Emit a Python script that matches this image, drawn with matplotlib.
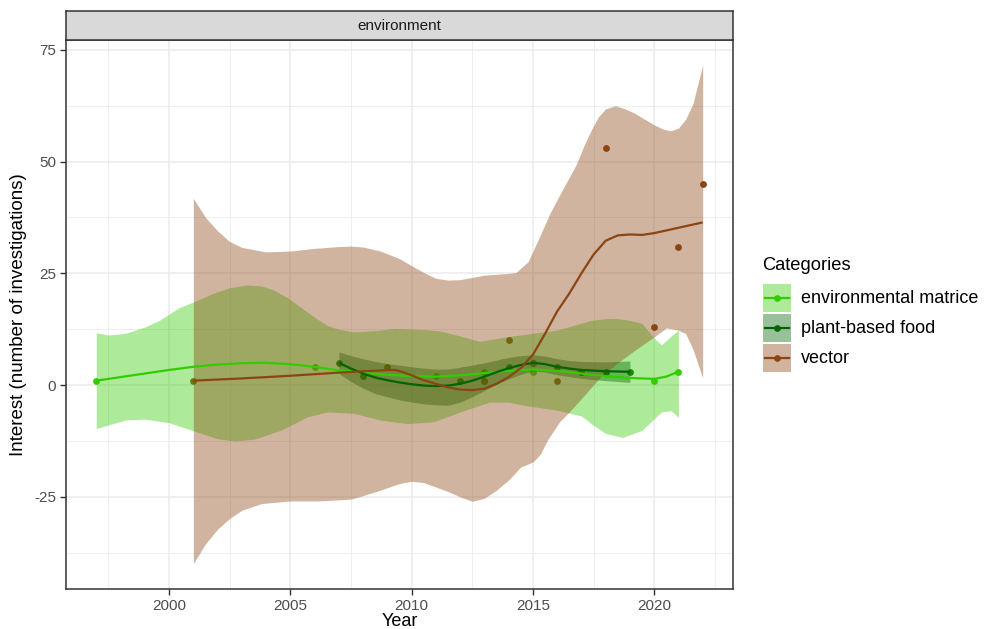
import numpy as np
import matplotlib
matplotlib.use("Agg")
import matplotlib.pyplot as plt
from matplotlib.patches import Rectangle

plt.rcParams['font.family'] = ['Liberation Sans', 'DejaVu Sans']
plt.rcParams['axes.unicode_minus'] = False

categories = ["environmental matrice", "plant-based food", "vector"]
colors = {"environmental matrice": "#33CC00", "plant-based food": "#006400", "vector": "#8B4513"}

# observed counts per year
env_years = [1997, 2006, 2011, 2013, 2015, 2017, 2020, 2021]
env_counts = [1, 4, 2, 3, 3, 3, 1, 3]
plant_years = [2007, 2008, 2012, 2013, 2014, 2015, 2016, 2017, 2018, 2019]
plant_counts = [5, 2, 1, 1, 4, 5, 4, 3, 3, 3]
vec_years = [2001, 2009, 2013, 2014, 2015, 2016, 2018, 2020, 2021, 2022]
vec_counts = [1, 4, 1, 10, 5, 1, 53, 13, 31, 45]

# loess fit and confidence band
env_fit_x = [1997, 1998, 1999, 2000, 2001, 2002, 2003, 2004, 2005, 2006, 2007, 2008, 2009,
             2010, 2011, 2012, 2013, 2014, 2015, 2016, 2017, 2018, 2019, 2020, 2020.5, 2021]
env_fit = [1.0, 1.8, 2.6, 3.4, 4.1, 4.6, 4.9, 5.0, 4.7, 4.1, 3.3, 2.8, 2.3,
           2.0, 1.9, 2.2, 2.7, 3.2, 3.5, 3.2, 2.6, 2.0, 1.6, 1.4, 1.9, 3.0]
env_hi_x = [1997, 1997.5, 1998.2, 1999, 1999.6, 2000.4, 2001, 2001.8, 2002.5, 2003.2, 2003.8, 2004.3,
            2004.9, 2005.4, 2006, 2006.5, 2007, 2007.6, 2008.5, 2009.3, 2010.6, 2011.2, 2012,
            2012.8, 2013.9, 2015, 2016, 2016.7, 2017.4, 2018, 2018.5, 2019, 2019.5, 2020,
            2020.3, 2020.6, 2021]
env_hi = [11.7, 11.2, 11.6, 13.0, 14.5, 17.3, 18.6, 20.5, 21.8, 22.4, 22.2, 21.3,
          19.5, 17.5, 15.2, 13.4, 12.5, 11.9, 12.2, 12.7, 12.4, 12.1, 11.0,
          9.8, 10.8, 11.6, 12.3, 13.4, 14.5, 14.9, 14.9, 14.5, 13.8, 10.5,
          9.0, 10.5, 12.3]
env_lo_x = [1997, 1997.5, 1998.2, 1999, 2000, 2001, 2002, 2002.7, 2003.5, 2004.6, 2005.2, 2005.7,
            2006.5, 2007.6, 2008.7, 2009.8, 2010.9, 2012, 2013.2, 2014, 2014.6, 2016, 2017,
            2017.5, 2018, 2018.7, 2019.5, 2020, 2020.3, 2020.7, 2021]
env_lo = [-9.7, -8.9, -7.8, -7.6, -8.4, -10.2, -12.0, -12.5, -12.1, -10.1, -8.5, -7.1,
          -6.0, -6.3, -7.8, -8.6, -8.2, -6.0, -3.8, -3.8, -4.5, -5.6, -6.9,
          -9.0, -10.8, -11.7, -10.1, -7.5, -6.0, -5.7, -7.2]

plant_fit_x = [2007, 2007.5, 2008, 2008.5, 2009, 2009.5, 2010, 2010.5, 2011, 2011.5, 2012,
               2012.5, 2013, 2013.5, 2014, 2014.5, 2015, 2015.5, 2016, 2016.5, 2017, 2018, 2019]
plant_fit = [5.0, 3.7, 2.6, 1.7, 1.1, 0.6, 0.2, -0.1, -0.2, -0.1, 0.3,
             1.0, 1.9, 2.9, 3.8, 4.5, 5.0, 4.7, 4.1, 3.7, 3.4, 3.1, 3.0]
plant_hi = [7.4, 6.6, 5.9, 5.3, 4.8, 4.5, 4.1, 3.8, 3.6, 3.6, 4.0,
            4.5, 5.0, 5.6, 6.2, 6.6, 6.8, 6.5, 5.9, 5.5, 5.3, 5.2, 5.4]
plant_lo = [2.6, 0.8, -0.7, -1.9, -2.6, -3.3, -3.8, -4.2, -4.4, -4.5, -3.8,
            -2.6, -1.2, 0.2, 1.4, 2.4, 3.2, 2.9, 2.3, 1.9, 1.5, 1.0, 0.6]

vec_fit_x = [2001, 2003, 2005, 2007, 2008, 2009, 2009.3, 2009.6, 2010, 2010.5, 2011, 2011.5,
             2012, 2012.5, 2013, 2013.5, 2014, 2014.5, 2015, 2015.5, 2016, 2016.5, 2017,
             2017.5, 2018, 2018.5, 2019, 2019.5, 2020, 2020.5, 2021, 2021.5, 2022]
vec_fit = [1.0, 1.5, 2.1, 2.8, 3.1, 3.35, 3.4, 3.0, 2.2, 1.1, 0.3, -0.5,
           -1.0, -1.1, -0.8, 0.3, 1.8, 3.8, 6.8, 11.5, 16.5, 20.5, 25.0,
           29.2, 32.3, 33.5, 33.7, 33.6, 34.0, 34.6, 35.2, 35.8, 36.4]
vec_hi_x = [2001, 2001.5, 2002, 2002.5, 2003, 2004, 2005, 2006, 2007, 2007.5, 2008, 2008.7,
            2009.5, 2010, 2010.5, 2011, 2011.5, 2012, 2012.5, 2013, 2013.5, 2014, 2014.3,
            2014.8, 2015.3, 2015.7, 2016, 2016.4, 2016.8, 2017.1, 2017.4, 2017.7, 2018,
            2018.4, 2018.8, 2019.2, 2019.6, 2020, 2020.4, 2020.7, 2021, 2021.3, 2021.6, 2022]
vec_hi = [41.8, 37.5, 34.5, 32.1, 30.8, 29.8, 30.0, 30.6, 31.0, 31.1, 30.9, 30.0,
          28.3, 26.7, 25.2, 23.9, 23.5, 23.6, 24.1, 24.6, 24.8, 25.0, 25.2,
          27.6, 33.5, 38.4, 41.5, 45.5, 49.5, 53.5, 57.0, 60.0, 61.8,
          62.5, 61.8, 60.8, 59.5, 58.2, 57.2, 56.9, 57.5, 59.5, 63.0, 71.6]
vec_lo_x = [2001, 2001.5, 2002, 2002.5, 2003, 2003.8, 2005, 2006.2, 2007.5, 2008, 2008.7,
            2009.5, 2010, 2010.5, 2011, 2011.5, 2012, 2012.5, 2013, 2013.5, 2014, 2014.5,
            2015, 2015.3, 2015.6, 2016.1, 2016.5, 2017, 2017.8, 2018.5, 2019.2, 2020,
            2020.5, 2021, 2021.3, 2021.6, 2022]
vec_lo = [-39.9, -35.5, -32.2, -29.8, -28.0, -26.5, -25.9, -25.9, -25.5, -24.7, -23.5,
          -22.0, -21.5, -21.8, -22.8, -23.8, -25.0, -26.0, -25.3, -23.5, -21.2, -18.3,
          -17.2, -15.5, -12.3, -8.2, -6.0, -3.0, 1.9, 5.0, 7.8, 10.8,
          12.8, 12.3, 11.5, 8.0, 1.6]

x_ticks = [2000, 2005, 2010, 2015, 2020]
y_ticks = [-25, 0, 25, 50, 75]

W, H = 988, 629
fig = plt.figure(figsize=(W / 100, H / 100), dpi=100)
L, R, T, B = 66, 733, 40, 589
ax = fig.add_axes([L / W, 1 - B / H, (R - L) / W, (B - T) / H])

# points under the ribbons, lines on top
ax.scatter(env_years, env_counts, s=24, color=colors["environmental matrice"], lw=0, zorder=2)
ax.scatter(plant_years, plant_counts, s=24, color=colors["plant-based food"], lw=0, zorder=2)
ax.scatter(vec_years, vec_counts, s=24, color=colors["vector"], lw=0, zorder=2)

c = colors["environmental matrice"]
ex = np.union1d(env_hi_x, env_lo_x)
ax.fill_between(ex, np.interp(ex, env_lo_x, env_lo), np.interp(ex, env_hi_x, env_hi),
                color=c, alpha=0.4, lw=0, zorder=3)
ax.plot(env_fit_x, env_fit, color=c, lw=1.6, zorder=6, solid_capstyle="butt")

c = colors["plant-based food"]
ax.fill_between(plant_fit_x, plant_lo, plant_hi, color=c, alpha=0.4, lw=0, zorder=4)
ax.plot(plant_fit_x, plant_fit, color=c, lw=1.6, zorder=7, solid_capstyle="butt")

c = colors["vector"]
vx = np.union1d(vec_hi_x, vec_lo_x)
ax.fill_between(vx, np.interp(vx, vec_lo_x, vec_lo), np.interp(vx, vec_hi_x, vec_hi),
                color=c, alpha=0.4, lw=0, zorder=5)
ax.plot(vec_fit_x, vec_fit, color=c, lw=1.6, zorder=8, solid_capstyle="butt")

ax.set_xlim(1995.75, 2023.25)
ax.set_ylim(-45.6, 77.2)
ax.set_xticks(x_ticks)
ax.set_yticks(y_ticks)
ax.set_xticks(np.arange(1997.5, 2023, 5), minor=True)
ax.set_yticks(np.arange(-37.5, 77, 25), minor=True)
ax.tick_params(which="minor", length=0)
ax.tick_params(which="major", length=4, width=1, color="#333333",
               labelcolor="#4D4D4D", labelsize=11, pad=3)
ax.grid(which="major", color="#EBEBEB", lw=1.1, zorder=0)
ax.grid(which="minor", color="#EBEBEB", lw=0.6, zorder=0)
ax.set_axisbelow(True)
for s in ax.spines.values():
    s.set_color("#333333")
    s.set_linewidth(1.1)
ax.set_xlabel("Year", fontsize=13, color="black", labelpad=0)
ax.set_ylabel("Interest (number of investigations)", fontsize=13.5, color="black", labelpad=5)

# facet strip
sax = fig.add_axes([L / W, 1 - T / H, (R - L) / W, 29 / H])
sax.set_facecolor("#D9D9D9")
sax.set_xticks([])
sax.set_yticks([])
for s in sax.spines.values():
    s.set_color("#333333")
    s.set_linewidth(1.1)
sax.text(0.5, 0.5, "environment", ha="center", va="center", fontsize=11, color="#1A1A1A",
         transform=sax.transAxes)

# legend drawn in pixel coordinates
lax = fig.add_axes([0, 0, 1, 1], zorder=10)
lax.set_xlim(0, W)
lax.set_ylim(H, 0)
lax.axis("off")
lax.text(762, 265, "Categories", fontsize=13.2, ha="left", va="center", color="black")
for i, cat in enumerate(categories):
    y0 = 284 + i * 30
    lax.add_patch(Rectangle((763, y0), 28, 28, facecolor=colors[cat], alpha=0.4, lw=0))
    lax.plot([765, 789], [y0 + 14, y0 + 14], color=colors[cat], lw=1.6)
    lax.plot([777], [y0 + 14], marker="o", color=colors[cat], markersize=4.8, mew=0)
    lax.text(801, y0 + 14.5, cat, fontsize=13, ha="left", va="center", color="black")

fig.savefig("out.png", dpi=100)
